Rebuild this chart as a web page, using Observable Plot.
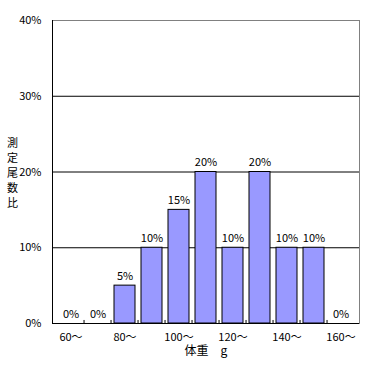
<!DOCTYPE html>
<html><head><meta charset="utf-8">
<script src="https://cdn.jsdelivr.net/npm/d3@7"></script>
<script src="https://cdn.jsdelivr.net/npm/@observablehq/plot@0.6"></script>
<style>body{margin:0;background:#fff}</style>
</head><body><div id="chart"></div>
<script>
const categories = [60, 70, 80, 90, 100, 110, 120, 130, 140, 150, 160];
const values = [0, 0, 5, 10, 15, 20, 10, 20, 10, 10, 0];
const xTickValues = [60, 80, 100, 120, 140, 160];
const yTickValues = [0, 10, 20, 30, 40];
const gridValues = [10, 20, 30];
const xTitle = "体重　g";
const yTitle = "測\n定\n尾\n数\n比";

const data = categories.map((c, i) => ({cat: c, value: values[i]}));
const W = 367, H = 367, ML = 52, MR = 8, MT = 20, MB = 44;
const halfStep = (W - ML - MR) / categories.length / 2;
const font = "'Noto Sans CJK JP', sans-serif";

const chart = Plot.plot({
  width: W, height: H,
  marginLeft: ML, marginRight: MR, marginTop: MT, marginBottom: MB,
  style: {fontFamily: font, fontSize: "11px", color: "black", background: "white"},
  x: {type: "band", domain: categories, paddingInner: 0.22, paddingOuter: 0.11, label: null},
  y: {domain: [0, 40], label: null},
  marks: [
    Plot.ruleY(gridValues, {stroke: "black"}),
    Plot.frame({stroke: "#808080"}),
    Plot.barY(data, {x: "cat", y: "value", fill: "#9999FF", stroke: "black", strokeWidth: 1}),
    Plot.ruleX(categories.slice(1), {x: d => d, y1: 0, y2: 0.4, dx: -halfStep, stroke: "black"}),
    Plot.ruleY([0], {stroke: "black"}),
    Plot.frame({anchor: "left", stroke: "black"}),
    Plot.text(data, {x: "cat", y: "value", text: d => d.value + "%", dy: -6, lineAnchor: "bottom", fontSize: 11}),
    Plot.axisX({ticks: xTickValues, tickFormat: d => d + "〜", tickSize: 0, tickPadding: 10, fontSize: 11}),
    Plot.axisY({ticks: yTickValues, tickFormat: d => d + "%", tickSize: 0, tickPadding: 11, fontSize: 11}),
    Plot.text([xTitle], {frameAnchor: "bottom", dy: 28, lineAnchor: "middle", textAnchor: "middle", fontSize: 12}),
    Plot.text([yTitle], {frameAnchor: "left", dx: -40, lineAnchor: "middle", textAnchor: "middle", lineHeight: 1.36, fontSize: 11})
  ]
});
document.getElementById("chart").appendChild(chart);
</script>
</body></html>
